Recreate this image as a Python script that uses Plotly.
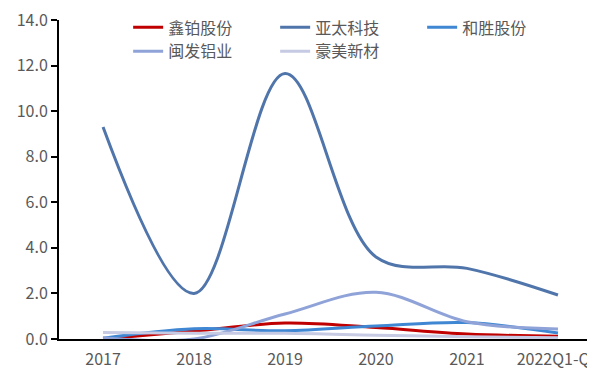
import plotly.graph_objects as go

categories = ["2017", "2018", "2019", "2020", "2021", "2022Q1-Q3"]
xinbo = [0.0, 0.35, 0.7, 0.5, 0.22, 0.12]
yatai = [9.3, 2.0, 11.65, 3.6, 3.1, 1.93]
hesheng = [0.03, 0.45, 0.36, 0.57, 0.72, 0.26]
minfa = [0.05, 0.0, 1.1, 2.05, 0.76, 0.44]
haomei = [0.28, 0.25, 0.25, 0.17, 0.1, 0.05]
y_ticks = [0, 2, 4, 6, 8, 10, 12, 14]

series = [
    ("鑫铂股份", xinbo, "#c00000"),
    ("亚太科技", yatai, "#5075ab"),
    ("和胜股份", hesheng, "#3f87d3"),
    ("闽发铝业", minfa, "#8fa3d8"),
    ("豪美新材", haomei, "#c6cae3"),
]

fig = go.Figure()
for name, vals, color in series:
    fig.add_trace(go.Scatter(
        x=categories, y=vals, name=name, mode="lines",
        line=dict(color=color, width=3, shape="spline", smoothing=1.0),
    ))

font_family = "Noto Sans CJK SC, Noto Sans, sans-serif"
fig.update_layout(
    width=587, height=364,
    margin=dict(l=51, r=0, t=12, b=33),
    paper_bgcolor="white", plot_bgcolor="white",
    font=dict(family=font_family, size=16, color="#595959"),
    showlegend=True,
    legend=dict(
        orientation="h", x=0.129, y=1.03, xanchor="left", yanchor="top",
        entrywidth=102, entrywidthmode="pixels",
        font=dict(size=16, color="#595959"),
        bgcolor="rgba(0,0,0,0)", tracegroupgap=0,
    ),
    xaxis=dict(
        type="category", range=[-0.484, 5.407], automargin=False,
        showline=True, linecolor="black", linewidth=2,
        ticks="", showgrid=False, zeroline=False, ticklabeloverflow="allow",
        ticklabelstandoff=5,
        tickfont=dict(size=16, color="#595959"),
    ),
    yaxis=dict(
        range=[0, 14], tickvals=y_ticks, tickformat=".1f", automargin=False,
        showline=True, linecolor="black", linewidth=2,
        ticks="outside", ticklen=6, tickcolor="black", tickwidth=2,
        showgrid=False, zeroline=False, ticklabeloverflow="allow",
        tickfont=dict(size=16, color="#595959"),
    ),
)

fig.write_html("out.html")
